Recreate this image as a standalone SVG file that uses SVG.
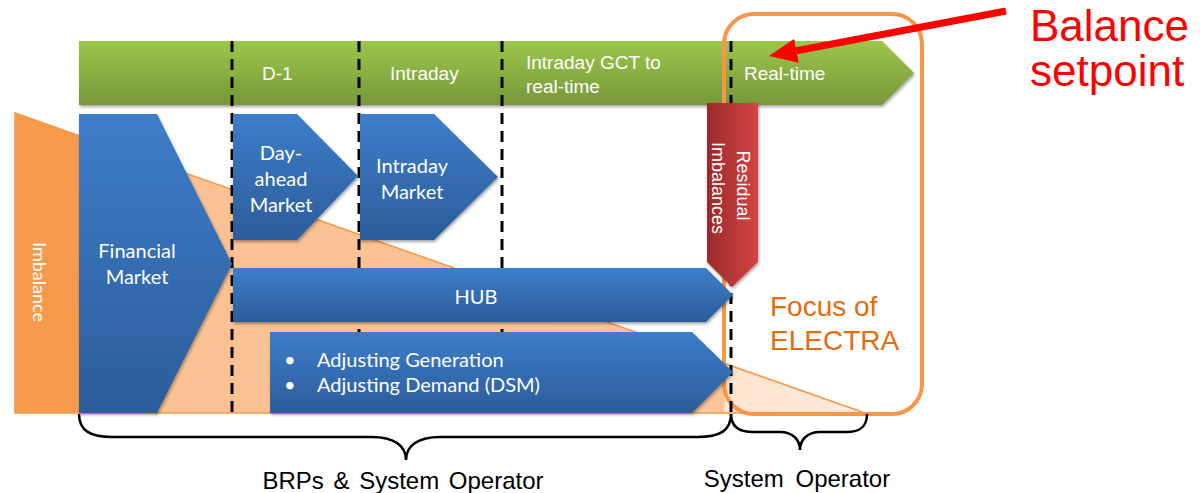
<svg xmlns="http://www.w3.org/2000/svg" width="1203" height="493" viewBox="0 0 1203 493">
  <defs>
    <linearGradient id="gBlue" x1="0" y1="0" x2="0" y2="1">
      <stop offset="0" stop-color="#3D7DCA"/>
      <stop offset="1" stop-color="#2C5D9A"/>
    </linearGradient>
    <linearGradient id="gGreen" x1="0" y1="0" x2="0" y2="1">
      <stop offset="0" stop-color="#9CC64A"/>
      <stop offset="1" stop-color="#77973A"/>
    </linearGradient>
    <linearGradient id="gRed" x1="0" y1="0" x2="1" y2="0">
      <stop offset="0" stop-color="#9C2A2A"/>
      <stop offset="1" stop-color="#D44444"/>
    </linearGradient>
    <!-- wedge: peach body, paler where it enters the focus frame -->
    <linearGradient id="gWedge" gradientUnits="userSpaceOnUse" x1="15" y1="0" x2="865" y2="0">
      <stop offset="0" stop-color="#FAC090"/>
      <stop offset="0.834" stop-color="#FBC69B"/>
      <stop offset="0.835" stop-color="#FDE4CF"/>
      <stop offset="1" stop-color="#FEEBDD"/>
    </linearGradient>
    <filter id="shadow" x="-5%" y="-5%" width="115%" height="125%">
      <feDropShadow dx="1" dy="2" stdDeviation="1.5" flood-color="#000" flood-opacity="0.35"/>
    </filter>
    <marker id="redHead" markerUnits="strokeWidth" markerWidth="4" markerHeight="3.6" refX="0" refY="1.75" orient="auto">
      <path d="M0,0 L4,1.75 L0,3.5 z" fill="#FF0000"/>
    </marker>
    <style>
      .blue { fill: url(#gBlue); filter: url(#shadow); }
      .lbl { font-family: Lato, "Open Sans", sans-serif; font-size: 20px; fill: #FFFFFF; }
      .bar { font-family: "Liberation Sans", Arial, sans-serif; font-size: 19px; fill: #FFFFFF; }
      .dash { stroke: #000; stroke-width: 3; stroke-dasharray: 11 7; }
      .brace { fill: none; stroke: #000; stroke-width: 2.5; }
      .foot { font-family: "Liberation Sans", Arial, sans-serif; font-size: 24px; fill: #000; }
      .note { font-family: "Liberation Sans", Arial, sans-serif; font-size: 44px; fill: #FF0000; }
    </style>
  </defs>

  <!-- imbalance wedge -->
  <g id="wedge">
    <polygon points="15,113 865,413 15,413" fill="url(#gWedge)" stroke="#F79646" stroke-width="1.5"/>
  </g>

  <!-- timeline bar -->
  <g id="timeline">
    <polygon points="79,41 882,41 914,73 882,105 79,105" fill="url(#gGreen)" filter="url(#shadow)"/>
    <text class="bar" x="262" y="80">D-1</text>
    <text class="bar" x="390" y="80">Intraday</text>
    <text class="bar" x="526" y="69">Intraday GCT to</text>
    <text class="bar" x="526" y="93">real-time</text>
    <text class="bar" x="744" y="80">Real-time</text>
  </g>

  <!-- focus frame -->
  <g id="focus">
    <rect x="724" y="14" width="198" height="400" rx="30" ry="30" fill="none" stroke="#F79646" stroke-width="4"/>
    <text x="770" y="316" font-family="'Liberation Sans', Arial, sans-serif" font-size="28" fill="#E46C0A">Focus of</text>
    <text x="770" y="350" font-family="'Liberation Sans', Arial, sans-serif" font-size="28" fill="#E46C0A">ELECTRA</text>
  </g>

  <!-- time boundaries and the setpoint pointer -->
  <g id="connectors">
    <line class="dash" x1="232" y1="41" x2="232" y2="414"/>
    <line class="dash" x1="359" y1="41" x2="359" y2="414"/>
    <line class="dash" x1="502" y1="41" x2="502" y2="414"/>
    <line class="dash" x1="731" y1="41" x2="731" y2="414"/>
    <line x1="1006" y1="11" x2="796.5" y2="50.8" stroke="#FF0000" stroke-width="7" marker-end="url(#redHead)"/>
  </g>

  <g id="imbalance">
    <polygon points="15,113 79,135.6 79,413 15,413" fill="#F79A4C"/>
    <text class="lbl" transform="translate(40,282) rotate(90)" text-anchor="middle" dominant-baseline="central" style="font-size:18px">Imbalance</text>
  </g>

  <g id="financial-market">
    <polygon class="blue" points="79,114 157,114 232,264 157,413 79,413"/>
    <text class="lbl" x="137" y="258" text-anchor="middle">Financial</text>
    <text class="lbl" x="137" y="284" text-anchor="middle">Market</text>
  </g>

  <g id="day-ahead-market">
    <polygon class="blue" points="233,114 297,114 358,176 297,240 233,240"/>
    <text class="lbl" x="281" y="160" text-anchor="middle">Day-</text>
    <text class="lbl" x="281" y="186" text-anchor="middle">ahead</text>
    <text class="lbl" x="281" y="212" text-anchor="middle">Market</text>
  </g>

  <g id="intraday-market">
    <polygon class="blue" points="360,114 434,114 498,177 434,240 360,240"/>
    <text class="lbl" x="412" y="173" text-anchor="middle">Intraday</text>
    <text class="lbl" x="412" y="199" text-anchor="middle">Market</text>
  </g>

  <g id="hub">
    <polygon class="blue" points="233,268 706,268 733,295 706,322 233,322"/>
    <text class="lbl" x="476" y="304" text-anchor="middle">HUB</text>
  </g>

  <g id="adjusting">
    <polygon class="blue" points="270,332 692,332 733,372 692,413 270,413"/>
    <text class="lbl" x="284" y="367">•</text>
    <text class="lbl" x="317" y="367">Adjusting Generation</text>
    <text class="lbl" x="284" y="392">•</text>
    <text class="lbl" x="317" y="392">Adjusting Demand (DSM)</text>
  </g>

  <g id="residual-imbalances">
    <polygon points="707,103 758,103 758,262 732,287 707,262" fill="url(#gRed)" filter="url(#shadow)"/>
    <text transform="translate(732,188) rotate(90)" text-anchor="middle" font-family="'Liberation Sans', Arial, sans-serif" font-size="18" fill="#FFFFFF">
      <tspan x="0" y="-5">Residual</tspan>
      <tspan x="0" y="20">Imbalances</tspan>
    </text>
  </g>

  <g id="balance-setpoint">
    <text class="note" x="1030" y="41">Balance</text>
    <text class="note" x="1030" y="86">setpoint</text>
  </g>

  <g id="brp-brace">
    <path class="brace" d="M79,414 C79,431 91,437 112,437 L372,437 C393,437 406,445 406,460 C406,445 419,437 440,437 L698,437 C719,437 731,431 731,414"/>
    <text class="foot" x="403" y="489" text-anchor="middle" word-spacing="3">BRPs &amp; System Operator</text>
  </g>

  <g id="so-brace">
    <path class="brace" d="M731,414 C731,427 739,432 753,432 L780,432 C793,432 800,440 800,450 C800,440 807,432 820,432 L846,432 C860,432 867,427 867,414"/>
    <text class="foot" x="797" y="487" text-anchor="middle" word-spacing="5">System Operator</text>
  </g>
</svg>
